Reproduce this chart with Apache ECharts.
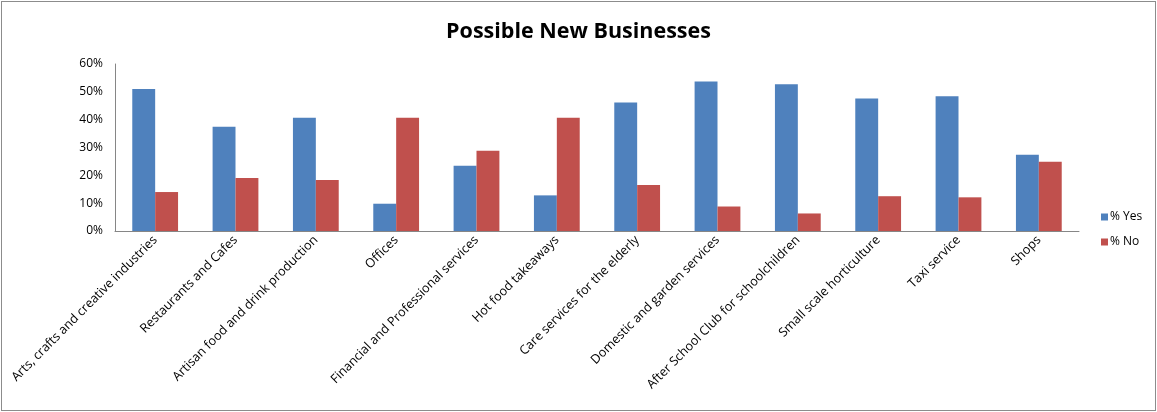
<!DOCTYPE html>
<html>
<head>
<meta charset="utf-8">
<script src="https://cdn.jsdelivr.net/npm/echarts@6/dist/echarts.min.js"></script>
<style>
html,body{margin:0;padding:0;background:#fff;}
#chart{position:absolute;left:1px;top:1px;width:1153px;height:408px;border:1px solid #8c8c8c;}
</style>
</head>
<body>
<div id="chart"></div>
<script>
const categories = ["Arts, crafts and creative industries","Restaurants and Cafes","Artisan food and drink production","Offices","Financial and Professional services","Hot food takeaways","Care services for the elderly","Domestic and garden services","After School Club for schoolchildren","Small scale horticulture","Taxi service","Shops"];
const yesValues = [51, 37.5, 40.7, 9.8, 23.4, 12.8, 46.2, 53.7, 52.7, 47.6, 48.4, 27.4];
const noValues = [14, 19, 18.3, 40.7, 28.8, 40.7, 16.5, 8.8, 6.3, 12.5, 12.1, 24.9];
const seriesNames = ["% Yes", "% No"];
const yTicks = {min: 0, max: 60, interval: 10};

const chart = echarts.init(document.getElementById('chart'));
const font = "'Open Sans', sans-serif";
chart.setOption({
  animation: false,
  title: {
    text: "Possible New Businesses",
    left: 'center', top: 14,
    textStyle: {fontFamily: font, fontSize: 21.5, fontWeight: 'bold', color: '#000'}
  },
  legend: {
    orient: 'vertical', left: 1094, top: 204,
    itemWidth: 7, itemHeight: 7, itemGap: 13,
    icon: 'rect',
    textStyle: {fontFamily: font, fontSize: 12, color: '#000', padding: [0,0,0,-3]},
    data: seriesNames
  },
  grid: {left: 113, right: 76, top: 62, bottom: 179, containLabel: false},
  xAxis: {
    type: 'category',
    data: categories,
    axisLine: {lineStyle: {color: '#868686', width: 1}},
    axisTick: {show: false},
    axisLabel: {rotate: 45, interval: 0, fontFamily: font, fontSize: 12.6, color: '#000', margin: 7}
  },
  yAxis: {
    type: 'value', min: yTicks.min, max: yTicks.max, interval: yTicks.interval,
    axisLine: {show: true, lineStyle: {color: '#868686', width: 1}},
    axisTick: {show: false},
    splitLine: {show: false},
    axisLabel: {fontFamily: font, fontSize: 12, color: '#000', formatter: v => v + '%', margin: 12}
  },
  series: [
    {name: seriesNames[0], type: 'bar', data: yesValues, barGap: '0%', barCategoryGap: '43%',
     itemStyle: {color: '#4f81bd'}},
    {name: seriesNames[1], type: 'bar', data: noValues,
     itemStyle: {color: '#c0504d'}}
  ]
});
</script>
</body>
</html>
